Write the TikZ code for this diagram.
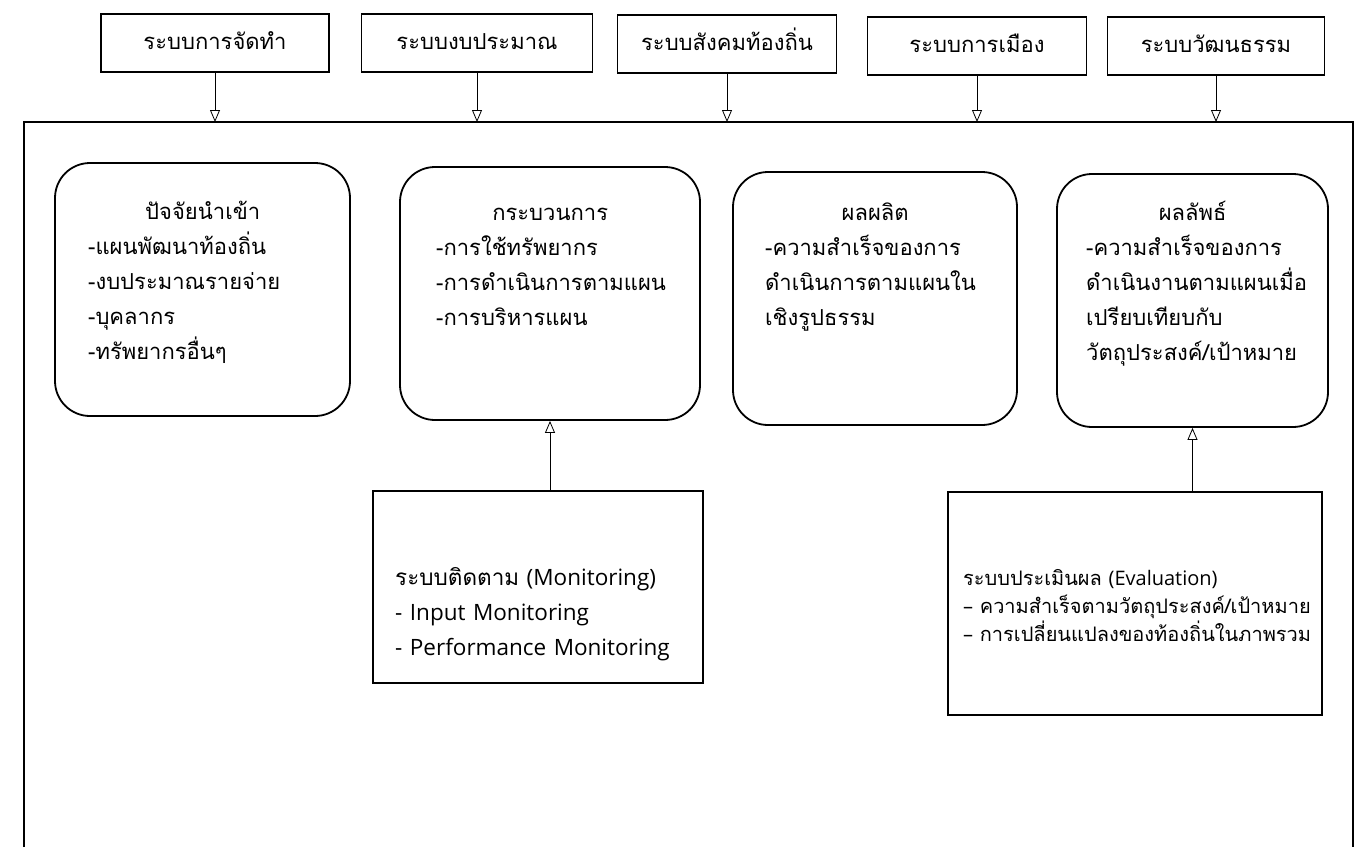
\documentclass[tikz,border=0pt]{standalone}
\usepackage{fontspec}
\setmainfont[Script=Thai]{Loma}
\newfontfamily\latinfont{Open Sans}
\usetikzlibrary{arrows.meta}

\begin{document}
\begin{tikzpicture}[
        yscale=-1,
        x=1pt,
        y=1pt,
        >={Triangle[open, length=12pt, width=10pt]},
        every node/.style={font=\fontsize{22}{35}\selectfont},
        sysbox/.style={draw, line width=1.4pt, minimum height=58pt, inner sep=0pt, text height=17pt, text depth=5pt},
        phase/.style={draw, line width=1.8pt, rounded corners=35pt, minimum height=253pt, inner sep=0pt},
        phasetext/.style={anchor=base west, align=left, inner sep=0pt},
        checkbox/.style={draw, line width=1.4pt, inner sep=0pt},
        flow/.style={->, line width=0.8pt}
    ]
    \useasboundingbox (0,0) rectangle (1358,847);

    \node[sysbox, minimum width=228pt] (sysplan) at (215,43) {ระบบการจัดทำ};
    \node[sysbox, minimum width=231pt] (sysbudget) at (477,43) {ระบบงบประมาณ};
    \node[sysbox, minimum width=219pt] (syssocial) at (727,44) {ระบบสังคมท้องถิ่น};
    \node[sysbox, minimum width=219pt] (syspolitic) at (977,46) {ระบบการเมือง};
    \node[sysbox, minimum width=217pt] (sysculture) at (1216,46) {ระบบวัฒนธรรม};

    \coordinate (frametop) at (24,122);
    \draw[line width=1.6pt] (24,847) |- (1353,122) -- (1353,847);

    \foreach \s in {sysplan, sysbudget, syssocial, syspolitic, sysculture}
        \draw[flow] (\s) -- (\s |- frametop);

    \node[phase, minimum width=295pt] (input) at (202.5,289.5) {};
    \node[phase, minimum width=300pt] (process) at (550,293.5) {};
    \node[phase, minimum width=284pt] (output) at (875,298.5) {};
    \node[phase, minimum width=271pt] (outcome) at (1192.5,300.5) {};

    \node[phasetext, text width=250pt] (inputtext) at (88,219) {
            \makebox[229pt]{ปัจจัยนำเข้า}\\
            -แผนพัฒนาท้องถิ่น\\
            -งบประมาณรายจ่าย\\
            -บุคลากร\\
            -ทรัพยากรอื่นๆ
        };
    \node[phasetext, text width=260pt] (processtext) at (436,220) {
            \makebox[228pt]{กระบวนการ}\\
            -การใช้ทรัพยากร\\
            -การดำเนินการตามแผน\\
            -การบริหารแผน
        };
    \node[phasetext, text width=250pt] (outputtext) at (765,220) {
            \makebox[220pt]{ผลผลิต}\\
            -ความสำเร็จของการ\\
            ดำเนินการตามแผนใน\\
            เชิงรูปธรรม
        };
    \node[phasetext, text width=240pt] (outcometext) at (1086,220) {
            \makebox[213pt]{ผลลัพธ์}\\
            -ความสำเร็จของการ\\
            ดำเนินงานตามแผนเมื่อ\\
            เปรียบเทียบกับ\\
            วัตถุประสงค์/เป้าหมาย
        };

    \node[checkbox, minimum width=330pt, minimum height=192pt] (monitor) at (538,587) {};
    \node[checkbox, minimum width=374pt, minimum height=223pt] (evaluate) at (1135,603.5) {};

    \node[phasetext, text width=300pt, font=\fontsize{22.5}{35}\selectfont] (monitortext) at (395,585) {
            ระบบติดตาม {\latinfont (Monitoring)}\\
            {\latinfont - Input Monitoring}\\
            {\latinfont - Performance Monitoring}
        };
    \node[phasetext, text width=355pt, font=\fontsize{20}{28}\selectfont] (evaluatetext) at (963,585) {
            ระบบประเมินผล {\latinfont (Evaluation)}\\
            {\latinfont –} ความสำเร็จตามวัตถุประสงค์/เป้าหมาย\\
            {\latinfont –} การเปลี่ยนแปลงของท้องถิ่นในภาพรวม
        };

    \draw[flow] (monitor.north -| process) -- (process.south);
    \draw[flow] (evaluate.north -| outcome) -- (outcome.south);
\end{tikzpicture}
\end{document}
